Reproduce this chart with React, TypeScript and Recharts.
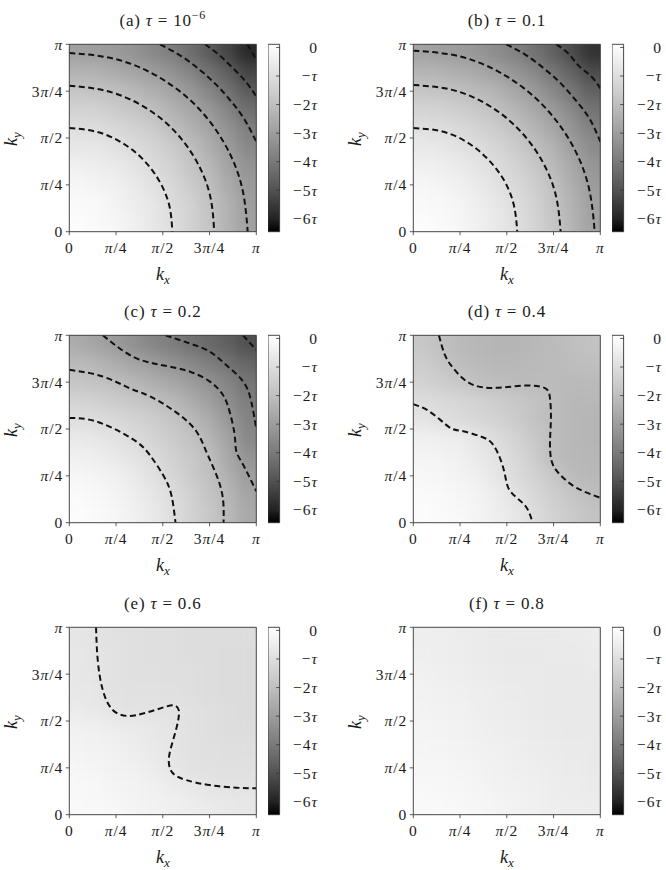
import React from 'react'
import { ComposedChart, Scatter, Line, XAxis, YAxis, ReferenceArea } from 'recharts'

const FONT = '"Liberation Serif", "DejaVu Serif", serif'

// grid cell centres and ticks, in units of π
const kCenters = [0.05, 0.15, 0.25, 0.35, 0.45, 0.55, 0.65, 0.75, 0.85, 0.95]
const kTicks = [0, 0.25, 0.5, 0.75, 1]
const kTickLabels = ['0', 'π/4', 'π/2', '3π/4', 'π']

// colour bar, in units of τ
const V_MIN = -6.45
const V_MAX = 0.11
const cbTicks = [0, -1, -2, -3, -4, -5, -6]
const cbTickLabels = ['0', '−τ', '−2τ', '−3τ', '−4τ', '−5τ', '−6τ']

const panelTags = ['(a)', '(b)', '(c)', '(d)', '(e)', '(f)']
const tauValues = ['10', '0.1', '0.2', '0.4', '0.6', '0.8']
const tauExponents = ['−6', '', '', '', '', '']

// energy maps (units of τ), rows from ky = 0.95π (top) down to ky = 0.05π
const heatA = [
  [-2.9, -3.0, -3.1, -3.3, -3.6, -3.9, -4.3, -4.8, -5.3, -5.9],
  [-2.4, -2.4, -2.6, -2.8, -3.0, -3.3, -3.7, -4.2, -4.7, -5.3],
  [-1.8, -1.9, -2.0, -2.2, -2.5, -2.8, -3.2, -3.7, -4.2, -4.8],
  [-1.4, -1.4, -1.6, -1.8, -2.0, -2.4, -2.7, -3.2, -3.7, -4.3],
  [-1.0, -1.1, -1.2, -1.4, -1.6, -2.0, -2.4, -2.8, -3.3, -3.9],
  [-0.7, -0.7, -0.9, -1.1, -1.3, -1.6, -2.0, -2.5, -3.0, -3.6],
  [-0.4, -0.5, -0.6, -0.8, -1.1, -1.4, -1.8, -2.2, -2.8, -3.3],
  [-0.2, -0.3, -0.4, -0.6, -0.9, -1.2, -1.6, -2.0, -2.6, -3.1],
  [-0.1, -0.1, -0.3, -0.5, -0.7, -1.1, -1.4, -1.9, -2.4, -3.0],
  [0.0, -0.1, -0.2, -0.4, -0.7, -1.0, -1.4, -1.8, -2.4, -2.9],
]
const heatB = [
  [-2.85, -2.95, -3.05, -3.25, -3.5, -3.8, -4.2, -4.65, -5.15, -5.7],
  [-2.3, -2.35, -2.5, -2.7, -2.95, -3.25, -3.6, -4.1, -4.6, -5.15],
  [-1.8, -1.85, -2.0, -2.15, -2.4, -2.75, -3.1, -3.6, -4.1, -4.65],
  [-1.35, -1.4, -1.55, -1.7, -1.95, -2.3, -2.7, -3.1, -3.6, -4.2],
  [-0.95, -1.0, -1.15, -1.35, -1.6, -1.9, -2.3, -2.75, -3.25, -3.8],
  [-0.65, -0.7, -0.85, -1.05, -1.3, -1.6, -1.95, -2.4, -2.95, -3.5],
  [-0.4, -0.45, -0.6, -0.8, -1.05, -1.35, -1.7, -2.15, -2.7, -3.25],
  [-0.2, -0.25, -0.4, -0.6, -0.85, -1.15, -1.5, -1.95, -2.5, -3.05],
  [-0.08, -0.14, -0.27, -0.46, -0.71, -1.02, -1.4, -1.85, -2.36, -2.93],
  [0.0, -0.07, -0.2, -0.39, -0.64, -0.95, -1.33, -1.78, -2.29, -2.86],
]
const heatC = [
  [-2.6, -2.85, -3.1, -3.4, -3.7, -3.95, -4.2, -4.45, -4.7, -5.05],
  [-2.15, -2.3, -2.55, -2.8, -3.05, -3.3, -3.6, -3.9, -4.2, -4.55],
  [-1.8, -1.9, -2.05, -2.3, -2.5, -2.75, -3.0, -3.35, -3.7, -4.15],
  [-1.35, -1.45, -1.6, -1.75, -1.95, -2.2, -2.55, -2.95, -3.45, -3.95],
  [-1.0, -1.05, -1.2, -1.35, -1.55, -1.8, -2.15, -2.6, -3.15, -3.75],
  [-0.65, -0.72, -0.88, -1.1, -1.35, -1.6, -1.85, -2.3, -2.8, -3.6],
  [-0.4, -0.47, -0.62, -0.82, -1.1, -1.4, -1.7, -2.0, -2.7, -3.3],
  [-0.2, -0.27, -0.4, -0.6, -0.9, -1.25, -1.6, -1.95, -2.45, -3.0],
  [-0.07, -0.14, -0.27, -0.46, -0.72, -1.04, -1.42, -1.82, -2.25, -2.8],
  [0.0, -0.07, -0.2, -0.39, -0.65, -0.97, -1.35, -1.75, -2.15, -2.65],
]
const heatD = [
  [-1.75, -1.95, -2.15, -2.25, -2.3, -2.3, -2.2, -2.1, -2.0, -1.85],
  [-1.55, -1.8, -2.05, -2.15, -2.2, -2.2, -2.15, -2.1, -2.05, -2.0],
  [-1.4, -1.55, -1.75, -2.0, -2.05, -2.1, -2.1, -2.1, -2.15, -2.15],
  [-1.05, -1.15, -1.25, -1.4, -1.55, -1.7, -1.85, -2.05, -2.2, -2.2],
  [-0.8, -0.95, -1.1, -1.25, -1.4, -1.6, -1.85, -2.05, -2.2, -2.3],
  [-0.4, -0.45, -0.55, -0.75, -1.05, -1.35, -1.7, -2.05, -2.2, -2.3],
  [-0.25, -0.3, -0.4, -0.6, -0.85, -1.2, -1.55, -2.05, -2.2, -2.25],
  [-0.15, -0.2, -0.3, -0.45, -0.75, -1.1, -1.4, -1.75, -2.1, -2.2],
  [-0.07, -0.1, -0.18, -0.3, -0.55, -0.85, -1.2, -1.5, -1.8, -2.02],
  [-0.02, -0.05, -0.12, -0.25, -0.45, -0.7, -1.05, -1.4, -1.65, -1.85],
]
const heatE = [
  [-0.74, -0.82, -0.9, -0.94, -0.98, -0.98, -1.02, -1.02, -1.02, -1.02],
  [-0.7, -0.8, -0.86, -0.94, -0.98, -0.98, -1.02, -1.02, -1.07, -1.07],
  [-0.7, -0.78, -0.86, -0.94, -0.94, -0.98, -0.98, -1.02, -1.07, -1.07],
  [-0.66, -0.74, -0.86, -0.9, -0.9, -0.94, -0.98, -1.02, -1.07, -1.07],
  [-0.57, -0.66, -0.8, -0.84, -0.84, -0.82, -0.9, -0.98, -1.02, -1.07],
  [-0.37, -0.41, -0.49, -0.57, -0.66, -0.78, -0.9, -0.98, -1.02, -1.02],
  [-0.29, -0.33, -0.41, -0.49, -0.62, -0.78, -0.9, -0.94, -0.98, -0.98],
  [-0.2, -0.25, -0.33, -0.41, -0.53, -0.7, -0.86, -0.9, -0.94, -0.94],
  [-0.12, -0.16, -0.25, -0.33, -0.41, -0.53, -0.66, -0.8, -0.82, -0.82],
  [-0.08, -0.12, -0.16, -0.25, -0.33, -0.41, -0.49, -0.57, -0.66, -0.7],
]
const heatF = [
  [-0.45, -0.48, -0.53, -0.57, -0.6, -0.6, -0.6, -0.6, -0.57, -0.53],
  [-0.42, -0.45, -0.5, -0.56, -0.6, -0.63, -0.63, -0.6, -0.6, -0.57],
  [-0.38, -0.42, -0.45, -0.53, -0.57, -0.6, -0.6, -0.63, -0.63, -0.6],
  [-0.33, -0.38, -0.42, -0.48, -0.54, -0.57, -0.6, -0.63, -0.63, -0.63],
  [-0.3, -0.33, -0.38, -0.45, -0.5, -0.54, -0.6, -0.63, -0.63, -0.63],
  [-0.27, -0.3, -0.33, -0.39, -0.45, -0.51, -0.57, -0.6, -0.63, -0.63],
  [-0.23, -0.26, -0.3, -0.35, -0.41, -0.47, -0.53, -0.57, -0.6, -0.6],
  [-0.18, -0.21, -0.26, -0.3, -0.36, -0.42, -0.48, -0.54, -0.57, -0.6],
  [-0.12, -0.15, -0.2, -0.26, -0.32, -0.38, -0.44, -0.5, -0.54, -0.57],
  [-0.08, -0.11, -0.15, -0.21, -0.27, -0.33, -0.39, -0.45, -0.5, -0.53],
]

// dashed contour lines, [kx, ky] in units of π
const contoursA = [
  [[0, 0.553], [0.143, 0.534], [0.276, 0.478], [0.39, 0.39], [0.478, 0.276], [0.534, 0.143], [0.551, 0]],
  [[0, 0.779], [0.2, 0.751], [0.389, 0.673], [0.55, 0.55], [0.673, 0.389], [0.751, 0.2], [0.775, 0]],
  [[0, 0.954], [0.247, 0.921], [0.477, 0.826], [0.675, 0.675], [0.826, 0.477], [0.921, 0.247], [0.954, 0]],
  [[0.485, 1], [0.6, 0.936], [0.7, 0.862], [0.785, 0.785], [0.862, 0.7], [0.936, 0.6], [1, 0.48]],
  [[0.726, 1], [0.8, 0.944], [0.874, 0.874], [0.944, 0.8], [1, 0.722]],
  [[0.952, 1], [0.975, 0.962], [1, 0.918]],
]
const contoursB = [
  [[0, 0.553], [0.145, 0.537], [0.28, 0.482], [0.393, 0.393], [0.482, 0.28], [0.537, 0.145], [0.556, 0]],
  [[0, 0.783], [0.203, 0.758], [0.393, 0.68], [0.555, 0.555], [0.68, 0.393], [0.76, 0.203], [0.788, 0]],
  [[0, 0.966], [0.25, 0.935], [0.484, 0.838], [0.684, 0.684], [0.838, 0.484], [0.935, 0.25], [0.97, 0]],
  [[0.497, 1], [0.6, 0.944], [0.7, 0.87], [0.79, 0.79], [0.87, 0.7], [0.944, 0.6], [1, 0.48]],
  [[0.765, 1], [0.83, 0.95], [0.885, 0.885], [0.95, 0.83], [1, 0.765]],
]
const contoursC = [
  [[0, 0.559], [0.107, 0.55], [0.232, 0.505], [0.357, 0.434], [0.429, 0.363], [0.5, 0.257], [0.545, 0.151], [0.568, 0]],
  [[0, 0.816], [0.179, 0.78], [0.321, 0.718], [0.393, 0.691], [0.482, 0.647], [0.589, 0.576], [0.679, 0.488], [0.732, 0.381], [0.786, 0.257], [0.821, 0.133], [0.825, 0]],
  [[0.179, 1], [0.268, 0.931], [0.357, 0.878], [0.446, 0.851], [0.536, 0.833], [0.643, 0.807], [0.75, 0.754], [0.821, 0.683], [0.857, 0.594], [0.884, 0.47], [0.893, 0.381], [0.929, 0.31], [1, 0.168]],
  [[0.515, 1], [0.643, 0.957], [0.75, 0.913], [0.839, 0.842], [0.929, 0.754], [0.973, 0.647], [1, 0.5]],
  [[0.929, 1], [1, 0.922]],
]
const contoursD = [
  [[0, 0.633], [0.071, 0.603], [0.143, 0.55], [0.205, 0.502], [0.267, 0.488], [0.357, 0.461], [0.419, 0.426], [0.463, 0.346], [0.49, 0.257], [0.508, 0.186], [0.553, 0.133], [0.606, 0.08], [0.638, 0]],
  [[0.137, 1], [0.169, 0.895], [0.214, 0.824], [0.285, 0.754], [0.374, 0.722], [0.481, 0.722], [0.606, 0.732], [0.704, 0.718], [0.731, 0.665], [0.736, 0.559], [0.731, 0.434], [0.74, 0.328], [0.784, 0.257], [0.873, 0.186], [1, 0.133]],
]
const contoursE = [
  [[0.143, 1], [0.152, 0.826], [0.179, 0.665], [0.232, 0.559], [0.313, 0.527], [0.411, 0.544], [0.518, 0.577], [0.563, 0.582], [0.586, 0.555], [0.575, 0.47], [0.545, 0.363], [0.532, 0.283], [0.554, 0.221], [0.625, 0.185], [0.75, 0.158], [0.893, 0.144], [1, 0.141]],
]
const contoursF: number[][][] = []

const HEATS = [heatA, heatB, heatC, heatD, heatE, heatF]
const CONTOURS = [contoursA, contoursB, contoursC, contoursD, contoursE, contoursF]

// layout
const COL_X = [0, 344]
const ROW_Y = [0, 290.5, 582.5]
const CHART_W = 262
const CHART_H = 290
const PLOT_LEFT = 69.3
const PLOT_TOP = 44.3
const PLOT_W = 187
const PLOT_H = 187.4
const Y_AXIS_W = 40
const X_AXIS_H = 30
const CB_LEFT = 267.7
const CB_W = 11.6
const CB_AXIS_W = 48
const CB_CHART_W = 62
const TICK_FS = 15.5
const TEXT = '#1a1a1a'

// grey colour map as it appears in the figure (lighter than linear)
const grayLevel = (v: number) => {
  const t = Math.max(0, Math.min(1, (v - V_MIN) / (V_MAX - V_MIN)))
  return Math.round(255 * Math.pow(t, 0.75))
}
const gray = (v: number) => {
  const c = grayLevel(v)
  return `rgb(${c},${c},${c})`
}

const toCells = (grid: number[][]) =>
  grid.flatMap((row, r) =>
    row.map((v, c) => ({ kx: kCenters[c], ky: kCenters[kCenters.length - 1 - r], v }))
  )

const toPoints = (pts: number[][]) => pts.map(([kx, ky]) => ({ kx, ky }))

const mathText = (s: string) =>
  s
    .split(/([πτ])/)
    .filter(Boolean)
    .map((part, i) =>
      /[πτ]/.test(part) ? (
        <tspan key={i} fontStyle="italic">{part}</tspan>
      ) : (
        <tspan key={i}>{part}</tspan>
      )
    )

const HeatCell = (props: any) => {
  const { cx, cy, payload } = props
  const w = PLOT_W / kCenters.length
  const h = PLOT_H / kCenters.length
  return <rect x={cx - w / 2 - 0.5} y={cy - h / 2 - 0.5} width={w + 1} height={h + 1} fill={gray(payload.v)} />
}

const XTick = ({ x, y, payload }: any) => (
  <text x={x} y={y} dy="0.71em" textAnchor="middle" fontFamily={FONT} fontSize={TICK_FS} fill={TEXT} letterSpacing={1}>
    {mathText(kTickLabels[kTicks.indexOf(payload.value)])}
  </text>
)

const YTick = ({ x, y, payload }: any) => (
  <text x={x} y={y} dy="0.35em" textAnchor="end" fontFamily={FONT} fontSize={TICK_FS} fill={TEXT} letterSpacing={1}>
    {mathText(kTickLabels[kTicks.indexOf(payload.value)])}
  </text>
)

const CbTick = ({ x, y, payload }: any) => (
  <g>
    <line x1={x - 3.5} x2={x} y1={y} y2={y} stroke="#333" strokeWidth={0.8} />
    <text x={x + 38.5} y={y} dy="0.35em" textAnchor="end" fontFamily={FONT} fontSize={TICK_FS} fill={TEXT} letterSpacing={1}>
      {mathText(cbTickLabels[cbTicks.indexOf(payload.value)])}
    </text>
  </g>
)

const cbStops = [V_MAX, ...cbTicks, V_MIN]
const cbPoints = cbTicks.map((v) => ({ x: 0.5, v }))

function Panel({ idx }: { idx: number }) {
  const left = COL_X[idx % 2]
  const top = ROW_Y[Math.floor(idx / 2)]
  const cells = toCells(HEATS[idx])
  const plotCx = left + PLOT_LEFT + PLOT_W / 2
  return (
    <>
      <div style={{ position: 'absolute', left, top }}>
        <ComposedChart
          width={CHART_W}
          height={CHART_H}
          margin={{
            top: PLOT_TOP,
            left: PLOT_LEFT - Y_AXIS_W,
            right: CHART_W - PLOT_LEFT - PLOT_W,
            bottom: CHART_H - PLOT_TOP - PLOT_H - X_AXIS_H,
          }}
        >
          <XAxis
            type="number"
            dataKey="kx"
            domain={[0, 1]}
            allowDataOverflow
            ticks={kTicks}
            interval={0}
            height={X_AXIS_H}
            tickSize={3.5}
            tickMargin={6.5}
            axisLine={false}
            tickLine={{ stroke: '#333', strokeWidth: 0.8 }}
            tick={(p: any) => <XTick {...p} />}
          />
          <YAxis
            type="number"
            dataKey="ky"
            domain={[0, 1]}
            allowDataOverflow
            ticks={kTicks}
            interval={0}
            width={Y_AXIS_W}
            tickSize={3.5}
            tickMargin={2.5}
            axisLine={false}
            tickLine={{ stroke: '#333', strokeWidth: 0.8 }}
            tick={(p: any) => <YTick {...p} />}
          />
          <Scatter data={cells} className="heat-blur" shape={HeatCell} zIndex={50} isAnimationActive={false} />
          {CONTOURS[idx].map((c, i) => (
            <Line
              key={i}
              data={toPoints(c)}
              dataKey="ky"
              type="natural"
              stroke="#111"
              strokeWidth={2}
              strokeDasharray="6 3.5"
              dot={false}
              activeDot={false}
              zIndex={700}
              isAnimationActive={false}
            />
          ))}
          <ReferenceArea
            x1={0}
            x2={1}
            y1={0}
            y2={1}
            fill="none"
            fillOpacity={0}
            stroke="#333"
            strokeWidth={0.9}
            zIndex={900}
          />
        </ComposedChart>
      </div>

      <div style={{ position: 'absolute', left: left + CB_LEFT, top }}>
        <ComposedChart
          width={CB_CHART_W}
          height={CHART_H}
          margin={{ top: PLOT_TOP, left: 0, right: CB_CHART_W - CB_W - CB_AXIS_W, bottom: CHART_H - PLOT_TOP - PLOT_H }}
        >
          <XAxis type="number" dataKey="x" domain={[0, 1]} allowDataOverflow hide height={0} />
          <YAxis
            type="number"
            dataKey="v"
            orientation="right"
            domain={[V_MIN, V_MAX]}
            allowDataOverflow
            ticks={cbTicks}
            interval={0}
            width={CB_AXIS_W}
            tickSize={0}
            tickMargin={0}
            axisLine={false}
            tickLine={false}
            tick={(p: any) => <CbTick {...p} />}
          />
          <Scatter data={cbPoints} shape={() => <g />} isAnimationActive={false} />
          <ReferenceArea
            x1={0}
            x2={1}
            y1={V_MIN}
            y2={V_MAX}
            fill="url(#cbGrad)"
            fillOpacity={1}
            stroke="#333"
            strokeWidth={0.9}
            ifOverflow="visible"
            zIndex={50}
          />
        </ComposedChart>
      </div>

      <div
        style={{
          position: 'absolute',
          left: plotCx - 100,
          top: top + 11,
          width: 200,
          textAlign: 'center',
          fontSize: 17,
          lineHeight: '20px',
          color: TEXT,
          letterSpacing: 0.8,
        }}
      >
        {panelTags[idx]} <i>τ</i> = {tauValues[idx]}
        {tauExponents[idx] && <sup style={{ fontSize: 12, verticalAlign: 7, lineHeight: 0 }}>{tauExponents[idx]}</sup>}
      </div>

      <div
        style={{
          position: 'absolute',
          left: plotCx - 30,
          top: top + 264,
          width: 60,
          textAlign: 'center',
          fontSize: 18,
          lineHeight: '20px',
          color: TEXT,
        }}
      >
        <i>k</i>
        <i style={{ fontSize: 13, position: 'relative', top: 4 }}>x</i>
      </div>

      <div
        style={{
          position: 'absolute',
          left: left + 12 - 30,
          top: top + PLOT_TOP + PLOT_H / 2 - 10,
          width: 60,
          textAlign: 'center',
          fontSize: 18,
          lineHeight: '20px',
          color: TEXT,
          transform: 'rotate(-90deg)',
        }}
      >
        <i>k</i>
        <i style={{ fontSize: 13, position: 'relative', top: 4 }}>y</i>
      </div>
    </>
  )
}

export default function App() {
  return (
    <div
      style={{
        position: 'absolute',
        left: 0,
        top: 0,
        width: 666,
        height: 870,
        background: '#fff',
        fontFamily: FONT,
        overflow: 'hidden',
      }}
    >
      <style>{`.heat-blur { filter: url(#heatBlur); }`}</style>
      <svg width={0} height={0} style={{ position: 'absolute' }}>
        <defs>
          <linearGradient id="cbGrad" x1="0" y1="0" x2="0" y2="1">
            {cbStops.map((v, i) => (
              <stop key={i} offset={(V_MAX - v) / (V_MAX - V_MIN)} stopColor={gray(v)} />
            ))}
          </linearGradient>
          <filter id="heatBlur" x="-10%" y="-10%" width="120%" height="120%" colorInterpolationFilters="sRGB">
            <feGaussianBlur stdDeviation="7" />
            <feComponentTransfer>
              <feFuncA type="linear" slope="60" intercept="0" />
            </feComponentTransfer>
          </filter>
        </defs>
      </svg>
      {panelTags.map((_, i) => (
        <Panel key={i} idx={i} />
      ))}
    </div>
  )
}
